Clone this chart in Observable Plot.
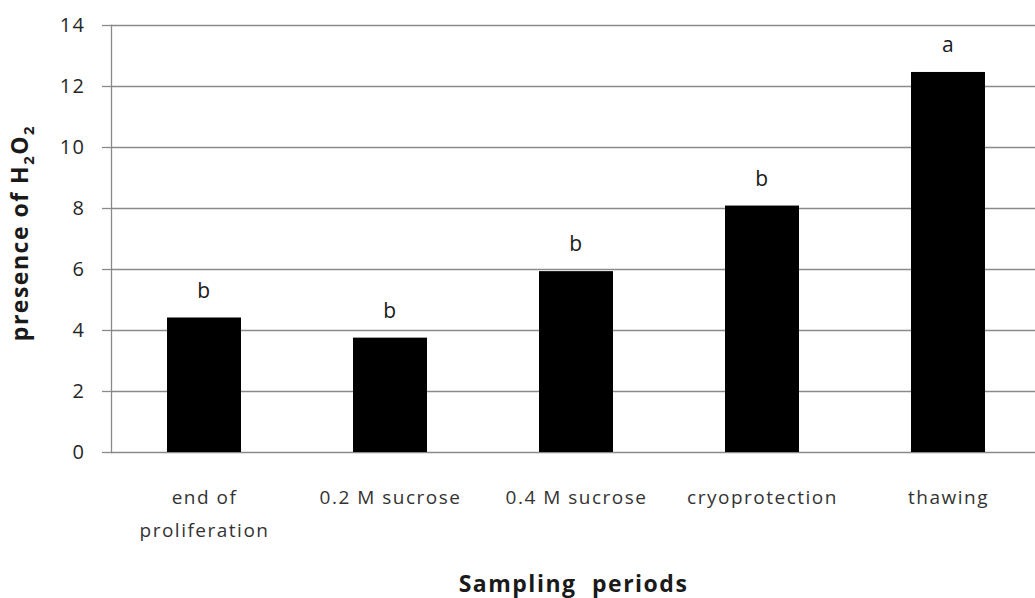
<!DOCTYPE html>
<html><head><meta charset="utf-8">
<script src="https://cdn.jsdelivr.net/npm/d3@7"></script>
<script src="https://cdn.jsdelivr.net/npm/@observablehq/plot@0.6"></script>
<style>
html,body{margin:0;padding:0;background:#fff;}
#chart svg text{letter-spacing:1.5px;}
</style></head><body><div id="chart"></div>
<script>
const categories = ["end of\nproliferation", "0.2 M sucrose", "0.4 M sucrose", "cryoprotection", "thawing"];
const values = [4.41, 3.75, 5.93, 8.08, 12.46];
const letters = ["b", "b", "b", "b", "a"];
const yTicks = [0, 2, 4, 6, 8, 10, 12, 14];
const yLabel = "presence of H2O2";
const xLabel = "Sampling periods";

const data = categories.map((c, i) => ({period: c, value: values[i], letter: letters[i]}));
const grey = "#8a8a8a";

const chart = Plot.plot({
  width: 1035, height: 598,
  marginLeft: 111, marginRight: 0, marginTop: 25, marginBottom: 146,
  style: {fontFamily: "'Open Sans', sans-serif", background: "#fff", color: "#333"},
  x: {domain: categories, range: [111, 1041], paddingInner: 0.6, paddingOuter: 0.3, label: null},
  y: {domain: [0, 14], label: null},
  marks: [
    Plot.gridY(yTicks, {stroke: grey, strokeOpacity: 1, strokeWidth: 1.3}),
    Plot.frame({anchor: "left", stroke: grey, strokeWidth: 1.3}),
    Plot.barY(data, {x: "period", y: "value", fill: "#000"}),
    Plot.text(data, {x: "period", y: "value", text: "letter", dy: -27, fontSize: 21, fill: "#1a1a1a"}),
    Plot.axisY(yTicks, {tickSize: 9, tickPadding: 17, stroke: grey, strokeWidth: 1.3, fontSize: 20, fill: "#262626", label: null}),
    Plot.axisY([], {label: yLabel, labelArrow: "none", labelAnchor: "center", labelOffset: 100, fontSize: 23, fontWeight: "bold", fill: "#1a1a1a", tickSize: 0}),
    Plot.axisX({tickSize: 0, tickPadding: 28, fontSize: 19, lineHeight: 1.75, fill: "#333", label: null}),
    Plot.axisX([], {label: xLabel, labelArrow: "none", labelAnchor: "center", labelOffset: 139, fontSize: 23, fontWeight: "bold", fill: "#1a1a1a", tickSize: 0})
  ]
});
document.getElementById("chart").appendChild(chart);

// subscripts in H2O2, double space in x label
chart.querySelectorAll("text").forEach(t => {
  const s = t.textContent.trim();
  if (s === yLabel) {
    const parts = ["presence of H", "2", "O", "2"];
    t.textContent = "";
    t.setAttribute("transform", (t.getAttribute("transform") || "") + " translate(6,0)");
    parts.forEach((p, i) => {
      const ts = document.createElementNS("http://www.w3.org/2000/svg", "tspan");
      ts.textContent = p;
      if (i % 2 === 1) { ts.setAttribute("font-size", "15"); ts.setAttribute("dy", "6"); }
      else if (i > 0) { ts.setAttribute("dy", "-6"); }
      t.appendChild(ts);
    });
  } else if (s === xLabel) {
    t.setAttribute("word-spacing", "8");
  }
});
</script></body></html>
